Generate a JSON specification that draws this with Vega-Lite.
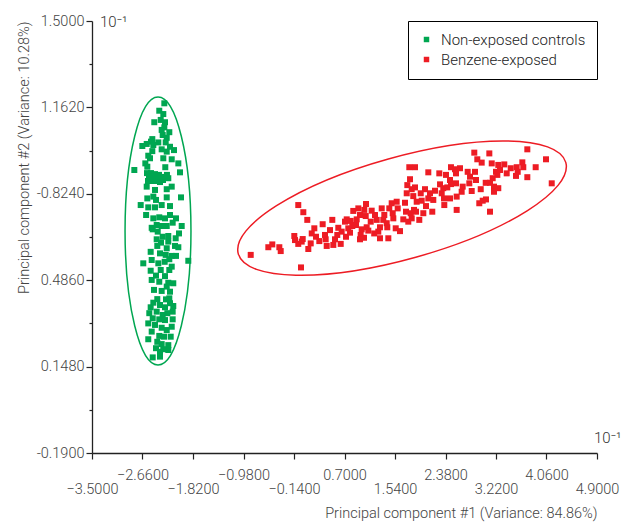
{
  "$schema": "https://vega.github.io/schema/vega-lite/v6.json",
  "width": 505,
  "height": 432,
  "autosize": {"type": "none"},
  "padding": {"left": 92, "top": 21, "right": 25, "bottom": 69},
  "background": "white",
  "config": {
    "view": {"stroke": null},
    "font": "Roboto",
    "axis": {"grid": false, "labelFont": "Roboto", "titleFont": "Roboto", "labelFontWeight": 300, "titleFontWeight": 300, "labelColor": "#444", "titleColor": "#444", "domainColor": "#222", "tickColor": "#222", "domainWidth": 1.3, "tickWidth": 1.2, "labelOverlap": false, "labelFlush": false, "labelBound": false}
  },
  "layer": [
    {
      "data": {"values": [{"pc1": -2.402, "pc2": 0.6785}]},
      "mark": {"type": "point", "shape": "M0,-1C0.1359,-1,0.246,-0.5523,0.246,0C0.246,0.5523,0.1359,1,0,1C-0.1359,1,-0.246,0.5523,-0.246,0C-0.246,-0.5523,-0.1359,-1,0,-1Z", "size": 71824, "filled": false, "color": "#00a651", "strokeWidth": 1.5, "opacity": 1},
      "encoding": {"x": {"field": "pc1", "type": "quantitative"}, "y": {"field": "pc2", "type": "quantitative"}}
    },
    {
      "data": {"values": [{"pc1": 1.657, "pc2": 0.768}]},
      "mark": {"type": "point", "shape": "M-1,0C-1,-0.1657,-0.5523,-0.3,0,-0.3C0.5523,-0.3,1,-0.1657,1,0C1,0.1657,0.5523,0.3,0,0.3C-0.5523,0.3,-1,0.1657,-1,0Z", "size": 115600, "angle": -15.6, "filled": false, "color": "#ed1c24", "strokeWidth": 1.5, "opacity": 1},
      "encoding": {"x": {"field": "pc1", "type": "quantitative"}, "y": {"field": "pc2", "type": "quantitative"}}
    },
    {
      "data": {"values": [
        {"g":"C","pc1":-2.297,"pc2":1.178},{"g":"C","pc1":-2.381,"pc2":1.149},{"g":"C","pc1":-2.314,"pc2":1.136},{"g":"C","pc1":-2.464,"pc2":1.104},{"g":"C","pc1":-2.357,"pc2":1.113},{"g":"C","pc1":-2.286,"pc2":1.104},{"g":"C","pc1":-2.297,"pc2":1.084},{"g":"C","pc1":-2.341,"pc2":1.074},{"g":"C","pc1":-2.214,"pc2":1.065},{"g":"C","pc1":-2.324,"pc2":1.054},
        {"g":"C","pc1":-2.497,"pc2":1.038},{"g":"C","pc1":-2.519,"pc2":1.028},{"g":"C","pc1":-2.397,"pc2":1.025},{"g":"C","pc1":-2.257,"pc2":1.043},{"g":"C","pc1":-2.59,"pc2":1.019},{"g":"C","pc1":-2.663,"pc2":1.011},{"g":"C","pc1":-2.48,"pc2":1.015},{"g":"C","pc1":-2.274,"pc2":1.025},{"g":"C","pc1":-2.203,"pc2":1.008},{"g":"C","pc1":-2.341,"pc2":0.998},
        {"g":"C","pc1":-2.497,"pc2":0.991},{"g":"C","pc1":-2.257,"pc2":0.989},{"g":"C","pc1":-2.136,"pc2":0.995},{"g":"C","pc1":-2.564,"pc2":0.973},{"g":"C","pc1":-2.535,"pc2":0.963},{"g":"C","pc1":-2.314,"pc2":0.963},{"g":"C","pc1":-2.174,"pc2":0.959},{"g":"C","pc1":-2.064,"pc2":0.943},{"g":"C","pc1":-2.613,"pc2":0.943},{"g":"C","pc1":-2.58,"pc2":0.93},
        {"g":"C","pc1":-2.281,"pc2":0.928},{"g":"C","pc1":-2.796,"pc2":0.917},{"g":"C","pc1":-2.036,"pc2":0.908},{"g":"C","pc1":-2.585,"pc2":0.905},{"g":"C","pc1":-2.519,"pc2":0.905},{"g":"C","pc1":-2.452,"pc2":0.901},{"g":"C","pc1":-2.386,"pc2":0.898},{"g":"C","pc1":-2.552,"pc2":0.89},{"g":"C","pc1":-2.485,"pc2":0.89},{"g":"C","pc1":-2.419,"pc2":0.886},
        {"g":"C","pc1":-2.352,"pc2":0.886},{"g":"C","pc1":-2.569,"pc2":0.874},{"g":"C","pc1":-2.502,"pc2":0.874},{"g":"C","pc1":-2.435,"pc2":0.874},{"g":"C","pc1":-2.369,"pc2":0.87},{"g":"C","pc1":-2.319,"pc2":0.878},{"g":"C","pc1":-2.286,"pc2":0.89},{"g":"C","pc1":-2.253,"pc2":0.898},{"g":"C","pc1":-2.231,"pc2":0.885},{"g":"C","pc1":-2.59,"pc2":0.852},
        {"g":"C","pc1":-2.452,"pc2":0.839},{"g":"C","pc1":-2.257,"pc2":0.842},{"g":"C","pc1":-2.174,"pc2":0.852},{"g":"C","pc1":-2.48,"pc2":0.813},{"g":"C","pc1":-2.58,"pc2":0.806},{"g":"C","pc1":-2.435,"pc2":0.8},{"g":"C","pc1":-2.257,"pc2":0.81},{"g":"C","pc1":-2.02,"pc2":0.81},{"g":"C","pc1":-2.341,"pc2":0.78},{"g":"C","pc1":-2.203,"pc2":0.776},
        {"g":"C","pc1":-2.69,"pc2":0.78},{"g":"C","pc1":-2.564,"pc2":0.771},{"g":"C","pc1":-2.452,"pc2":0.771},{"g":"C","pc1":-2.6,"pc2":0.741},{"g":"C","pc1":-2.48,"pc2":0.728},{"g":"C","pc1":-2.381,"pc2":0.732},{"g":"C","pc1":-2.286,"pc2":0.728},{"g":"C","pc1":-2.203,"pc2":0.741},{"g":"C","pc1":-2.103,"pc2":0.728},{"g":"C","pc1":-2.424,"pc2":0.702},
        {"g":"C","pc1":-2.341,"pc2":0.698},{"g":"C","pc1":-2.257,"pc2":0.698},{"g":"C","pc1":-2.158,"pc2":0.711},{"g":"C","pc1":-2.008,"pc2":0.698},{"g":"C","pc1":-2.507,"pc2":0.691},{"g":"C","pc1":-2.49,"pc2":0.685},{"g":"C","pc1":-2.407,"pc2":0.676},{"g":"C","pc1":-2.324,"pc2":0.656},{"g":"C","pc1":-2.231,"pc2":0.659},{"g":"C","pc1":-2.053,"pc2":0.669},
        {"g":"C","pc1":-2.424,"pc2":0.646},{"g":"C","pc1":-2.231,"pc2":0.637},{"g":"C","pc1":-2.108,"pc2":0.65},{"g":"C","pc1":-2.414,"pc2":0.62},{"g":"C","pc1":-2.257,"pc2":0.611},{"g":"C","pc1":-2.352,"pc2":0.633},{"g":"C","pc1":-2.119,"pc2":0.62},{"g":"C","pc1":-2.064,"pc2":0.615},{"g":"C","pc1":-2.524,"pc2":0.597},{"g":"C","pc1":-2.369,"pc2":0.591},
        {"g":"C","pc1":-2.274,"pc2":0.585},{"g":"C","pc1":-2.174,"pc2":0.581},{"g":"C","pc1":-2.103,"pc2":0.581},{"g":"C","pc1":-2.507,"pc2":0.565},{"g":"C","pc1":-2.647,"pc2":0.552},{"g":"C","pc1":-2.397,"pc2":0.552},{"g":"C","pc1":-2.291,"pc2":0.558},{"g":"C","pc1":-2.214,"pc2":0.568},{"g":"C","pc1":-1.898,"pc2":0.562},{"g":"C","pc1":-2.524,"pc2":0.523},
        {"g":"C","pc1":-2.357,"pc2":0.526},{"g":"C","pc1":-2.214,"pc2":0.526},{"g":"C","pc1":-2.174,"pc2":0.539},{"g":"C","pc1":-2.435,"pc2":0.504},{"g":"C","pc1":-2.286,"pc2":0.502},{"g":"C","pc1":-2.507,"pc2":0.487},{"g":"C","pc1":-2.381,"pc2":0.48},{"g":"C","pc1":-2.231,"pc2":0.476},{"g":"C","pc1":-2.148,"pc2":0.474},{"g":"C","pc1":-2.469,"pc2":0.448},
        {"g":"C","pc1":-2.341,"pc2":0.444},{"g":"C","pc1":-2.257,"pc2":0.461},{"g":"C","pc1":-2.203,"pc2":0.441},{"g":"C","pc1":-2.269,"pc2":0.411},{"g":"C","pc1":-2.414,"pc2":0.412},{"g":"C","pc1":-2.214,"pc2":0.415},{"g":"C","pc1":-2.48,"pc2":0.398},{"g":"C","pc1":-2.524,"pc2":0.38},{"g":"C","pc1":-2.369,"pc2":0.389},{"g":"C","pc1":-2.286,"pc2":0.38},
        {"g":"C","pc1":-2.203,"pc2":0.396},{"g":"C","pc1":-2.148,"pc2":0.385},{"g":"C","pc1":-2.547,"pc2":0.357},{"g":"C","pc1":-2.424,"pc2":0.363},{"g":"C","pc1":-2.324,"pc2":0.35},{"g":"C","pc1":-2.247,"pc2":0.357},{"g":"C","pc1":-2.158,"pc2":0.363},{"g":"C","pc1":-2.49,"pc2":0.337},{"g":"C","pc1":-2.381,"pc2":0.333},{"g":"C","pc1":-2.286,"pc2":0.33},
        {"g":"C","pc1":-2.158,"pc2":0.333},{"g":"C","pc1":-2.564,"pc2":0.317},{"g":"C","pc1":-2.452,"pc2":0.311},{"g":"C","pc1":-2.341,"pc2":0.3},{"g":"C","pc1":-2.257,"pc2":0.291},{"g":"C","pc1":-2.174,"pc2":0.304},{"g":"C","pc1":-2.507,"pc2":0.285},{"g":"C","pc1":-2.381,"pc2":0.268},{"g":"C","pc1":-2.191,"pc2":0.265},{"g":"C","pc1":-2.302,"pc2":0.265},
        {"g":"C","pc1":-2.564,"pc2":0.255},{"g":"C","pc1":-2.414,"pc2":0.245},{"g":"C","pc1":-2.341,"pc2":0.236},{"g":"C","pc1":-2.231,"pc2":0.232},{"g":"C","pc1":-2.435,"pc2":0.22},{"g":"C","pc1":-2.314,"pc2":0.216},{"g":"C","pc1":-2.231,"pc2":0.213},{"g":"C","pc1":-2.369,"pc2":0.206},{"g":"C","pc1":-2.49,"pc2":0.184},{"g":"C","pc1":-2.369,"pc2":0.187},
        {"g":"B","pc1":-0.86,"pc2":0.585},{"g":"B","pc1":-0.567,"pc2":0.615},{"g":"B","pc1":-0.501,"pc2":0.626},{"g":"B","pc1":-0.384,"pc2":0.615},{"g":"B","pc1":-0.361,"pc2":0.6},{"g":"B","pc1":-0.024,"pc2":0.536},{"g":"B","pc1":-0.069,"pc2":0.78},{"g":"B","pc1":0.015,"pc2":0.752},{"g":"B","pc1":0.081,"pc2":0.722},{"g":"B","pc1":-0.135,"pc2":0.659},
        {"g":"B","pc1":-0.123,"pc2":0.643},{"g":"B","pc1":0.005,"pc2":0.647},{"g":"B","pc1":-0.069,"pc2":0.628},{"g":"B","pc1":-0.012,"pc2":0.637},{"g":"B","pc1":0.098,"pc2":0.608},{"g":"B","pc1":0.138,"pc2":0.63},{"g":"B","pc1":0.155,"pc2":0.669},{"g":"B","pc1":0.198,"pc2":0.689},{"g":"B","pc1":0.226,"pc2":0.656},{"g":"B","pc1":0.281,"pc2":0.639},
        {"g":"B","pc1":0.337,"pc2":0.705},{"g":"B","pc1":0.376,"pc2":0.663},{"g":"B","pc1":0.404,"pc2":0.62},{"g":"B","pc1":0.459,"pc2":0.682},{"g":"B","pc1":0.387,"pc2":0.646},{"g":"B","pc1":0.497,"pc2":0.722},{"g":"B","pc1":0.514,"pc2":0.624},{"g":"B","pc1":0.542,"pc2":0.646},{"g":"B","pc1":0.597,"pc2":0.691},{"g":"B","pc1":0.58,"pc2":0.663},
        {"g":"B","pc1":0.637,"pc2":0.628},{"g":"B","pc1":0.653,"pc2":0.676},{"g":"B","pc1":0.708,"pc2":0.715},{"g":"B","pc1":0.725,"pc2":0.656},{"g":"B","pc1":0.763,"pc2":0.689},{"g":"B","pc1":0.737,"pc2":0.724},{"g":"B","pc1":0.803,"pc2":0.718},{"g":"B","pc1":0.792,"pc2":0.672},{"g":"B","pc1":0.83,"pc2":0.698},{"g":"B","pc1":0.846,"pc2":0.757},
        {"g":"B","pc1":0.891,"pc2":0.702},{"g":"B","pc1":0.93,"pc2":0.767},{"g":"B","pc1":0.903,"pc2":0.724},{"g":"B","pc1":0.958,"pc2":0.741},{"g":"B","pc1":0.969,"pc2":0.663},{"g":"B","pc1":1.024,"pc2":0.652},{"g":"B","pc1":0.958,"pc2":0.646},{"g":"B","pc1":0.986,"pc2":0.685},{"g":"B","pc1":1.029,"pc2":0.761},{"g":"B","pc1":1.058,"pc2":0.784},
        {"g":"B","pc1":1.053,"pc2":0.737},{"g":"B","pc1":1.069,"pc2":0.693},{"g":"B","pc1":1.152,"pc2":0.758},{"g":"B","pc1":1.136,"pc2":0.715},{"g":"B","pc1":1.207,"pc2":0.741},{"g":"B","pc1":1.236,"pc2":0.722},{"g":"B","pc1":1.29,"pc2":0.693},{"g":"B","pc1":1.262,"pc2":0.676},{"g":"B","pc1":1.319,"pc2":0.767},{"g":"B","pc1":1.345,"pc2":0.722},
        {"g":"B","pc1":1.362,"pc2":0.741},{"g":"B","pc1":1.402,"pc2":0.709},{"g":"B","pc1":1.412,"pc2":0.693},{"g":"B","pc1":1.445,"pc2":0.767},{"g":"B","pc1":1.485,"pc2":0.787},{"g":"B","pc1":1.502,"pc2":0.748},{"g":"B","pc1":1.512,"pc2":0.728},{"g":"B","pc1":1.568,"pc2":0.793},{"g":"B","pc1":1.585,"pc2":0.767},{"g":"B","pc1":1.552,"pc2":0.689},
        {"g":"B","pc1":1.29,"pc2":0.65},{"g":"B","pc1":1.429,"pc2":0.65},{"g":"B","pc1":1.194,"pc2":0.669},{"g":"B","pc1":1.096,"pc2":0.68},{"g":"B","pc1":1.623,"pc2":0.678},{"g":"B","pc1":1.706,"pc2":0.789},{"g":"B","pc1":1.735,"pc2":0.826},{"g":"B","pc1":1.745,"pc2":0.858},{"g":"B","pc1":1.778,"pc2":0.928},{"g":"B","pc1":1.873,"pc2":0.928},
        {"g":"B","pc1":1.79,"pc2":0.881},{"g":"B","pc1":1.818,"pc2":0.842},{"g":"B","pc1":1.873,"pc2":0.849},{"g":"B","pc1":1.844,"pc2":0.815},{"g":"B","pc1":1.723,"pc2":0.754},{"g":"B","pc1":1.678,"pc2":0.724},{"g":"B","pc1":1.761,"pc2":0.715},{"g":"B","pc1":1.801,"pc2":0.748},{"g":"B","pc1":1.856,"pc2":0.761},{"g":"B","pc1":1.818,"pc2":0.728},
        {"g":"B","pc1":1.944,"pc2":0.722},{"g":"B","pc1":1.901,"pc2":0.793},{"g":"B","pc1":1.889,"pc2":0.754},{"g":"B","pc1":1.968,"pc2":0.826},{"g":"B","pc1":1.984,"pc2":0.797},{"g":"B","pc1":2.011,"pc2":0.748},{"g":"B","pc1":2.056,"pc2":0.776},{"g":"B","pc1":2.094,"pc2":0.908},{"g":"B","pc1":2.039,"pc2":0.842},{"g":"B","pc1":2.094,"pc2":0.806},
        {"g":"B","pc1":2.122,"pc2":0.826},{"g":"B","pc1":2.16,"pc2":0.754},{"g":"B","pc1":2.205,"pc2":0.836},{"g":"B","pc1":2.177,"pc2":0.8},{"g":"B","pc1":2.277,"pc2":0.904},{"g":"B","pc1":2.289,"pc2":0.861},{"g":"B","pc1":2.317,"pc2":0.826},{"g":"B","pc1":2.343,"pc2":0.846},{"g":"B","pc1":2.355,"pc2":0.806},{"g":"B","pc1":2.36,"pc2":0.78},
        {"g":"B","pc1":2.388,"pc2":0.898},{"g":"B","pc1":2.41,"pc2":0.849},{"g":"B","pc1":2.455,"pc2":0.806},{"g":"B","pc1":2.455,"pc2":0.878},{"g":"B","pc1":2.471,"pc2":0.928},{"g":"B","pc1":2.538,"pc2":0.92},{"g":"B","pc1":2.555,"pc2":0.904},{"g":"B","pc1":2.555,"pc2":0.865},{"g":"B","pc1":2.566,"pc2":0.813},{"g":"B","pc1":2.566,"pc2":0.761},
        {"g":"B","pc1":2.471,"pc2":0.862},{"g":"B","pc1":2.621,"pc2":0.924},{"g":"B","pc1":2.666,"pc2":0.852},{"g":"B","pc1":2.649,"pc2":0.832},{"g":"B","pc1":2.749,"pc2":0.91},{"g":"B","pc1":2.788,"pc2":0.891},{"g":"B","pc1":2.776,"pc2":0.865},{"g":"B","pc1":2.816,"pc2":0.835},{"g":"B","pc1":2.871,"pc2":0.91},{"g":"B","pc1":2.887,"pc2":0.878},
        {"g":"B","pc1":2.859,"pc2":0.985},{"g":"B","pc1":2.909,"pc2":0.959},{"g":"B","pc1":2.982,"pc2":0.946},{"g":"B","pc1":2.966,"pc2":0.842},{"g":"B","pc1":2.942,"pc2":0.787},{"g":"B","pc1":2.999,"pc2":0.797},{"g":"B","pc1":3.054,"pc2":0.802},{"g":"B","pc1":3.109,"pc2":0.982},{"g":"B","pc1":3.049,"pc2":0.867},{"g":"B","pc1":3.12,"pc2":0.867},
        {"g":"B","pc1":3.149,"pc2":0.943},{"g":"B","pc1":3.165,"pc2":0.885},{"g":"B","pc1":3.187,"pc2":0.852},{"g":"B","pc1":3.187,"pc2":0.832},{"g":"B","pc1":3.12,"pc2":0.754},{"g":"B","pc1":3.22,"pc2":0.91},{"g":"B","pc1":3.242,"pc2":0.898},{"g":"B","pc1":3.258,"pc2":0.937},{"g":"B","pc1":3.287,"pc2":0.917},{"g":"B","pc1":3.258,"pc2":0.846},
        {"g":"B","pc1":3.358,"pc2":0.939},{"g":"B","pc1":3.398,"pc2":0.904},{"g":"B","pc1":3.465,"pc2":0.924},{"g":"B","pc1":3.564,"pc2":0.928},{"g":"B","pc1":3.581,"pc2":0.91},{"g":"B","pc1":3.553,"pc2":0.894},{"g":"B","pc1":3.658,"pc2":0.947},{"g":"B","pc1":3.674,"pc2":0.928},{"g":"B","pc1":3.741,"pc2":0.889},{"g":"B","pc1":3.741,"pc2":0.998},
        {"g":"B","pc1":3.88,"pc2":0.928},{"g":"B","pc1":4.052,"pc2":0.959},{"g":"B","pc1":4.147,"pc2":0.865}
      ]},
      "mark": {"type": "point", "shape": "square", "filled": true, "size": 36, "opacity": 1, "strokeWidth": 0},
      "encoding": {
        "x": {
          "field": "pc1", "type": "quantitative",
          "scale": {"domain": [-3.5, 4.9], "nice": false, "zero": false},
          "axis": {
            "values": [-3.5, -3.08, -2.66, -2.24, -1.82, -1.4, -0.98, -0.56, -0.14, 0.28, 0.7, 1.12, 1.54, 1.96, 2.38, 2.8, 3.22, 3.64, 4.06, 4.48, 4.9],
            "labelExpr": "round((datum.value+3.5)/0.42) % 4 == 0 ? ['', format(datum.value, '.4f')] : (round((datum.value+3.5)/0.42) % 4 == 2 ? format(datum.value, '.4f') : '')",
            "tickSize": {"condition": {"test": "round((datum.value+3.5)/0.42) % 2 == 0", "value": 6}, "value": 3},
            "labelFontSize": 14.5,
            "labelLineHeight": 14,
            "labelPadding": 9,
            "title": "Principal component #1 (Variance: 84.86%)",
            "titleAnchor": "end",
            "titleFontSize": 14.5,
            "titlePadding": 11
          }
        },
        "y": {
          "field": "pc2", "type": "quantitative",
          "scale": {"domain": [-0.19, 1.5], "nice": false, "zero": false},
          "axis": {
            "values": [-0.19, -0.021, 0.148, 0.317, 0.486, 0.655, 0.824, 0.993, 1.162, 1.331, 1.5],
            "labelExpr": "round((datum.value+0.19)/0.169) % 2 == 1 ? '' : (abs(datum.value-0.824) < 0.001 ? '-0.8240' : replace(format(datum.value, '.4f'), '\u2212', '-'))",
            "tickSize": {"condition": {"test": "round((datum.value+0.19)/0.169) % 2 == 0", "value": 6}, "value": 3},
            "labelFontSize": 14.5,
            "labelPadding": 2,
            "title": "Principal component #2 (Variance: 10.28%)",
            "titleAnchor": "end",
            "titleFontSize": 14.5,
            "titlePadding": 5
          }
        },
        "color": {
          "field": "g", "type": "nominal",
          "scale": {"domain": ["C", "B"], "range": ["#00a651", "#ed1c24"]},
          "legend": {
            "orient": "top-right", "offset": 0, "title": null,
            "labelExpr": "datum.label == 'C' ? 'Non-exposed controls' : 'Benzene-exposed'",
            "strokeColor": "#000", "fillColor": "white", "padding": 11,
            "symbolType": "square", "symbolSize": 30, "symbolStrokeWidth": 0,
            "labelFont": "Roboto", "labelFontSize": 15, "labelFontWeight": 300, "labelColor": "#222",
            "rowPadding": 4, "labelOffset": 7
          }
        }
      }
    },
    {
      "data": {"values": [{"pc1": -3.5, "pc2": 1.5, "t": "10⁻¹"}]},
      "mark": {"type": "text", "align": "left", "baseline": "middle", "dx": 8, "dy": 1, "font": "Roboto", "fontWeight": 300, "fontSize": 15, "color": "#333"},
      "encoding": {"x": {"field": "pc1", "type": "quantitative"}, "y": {"field": "pc2", "type": "quantitative"}, "text": {"field": "t"}}
    },
    {
      "data": {"values": [{"pc1": 4.9, "pc2": -0.19, "t": "10⁻¹"}]},
      "mark": {"type": "text", "align": "left", "baseline": "middle", "dx": -3, "dy": -15, "font": "Roboto", "fontWeight": 300, "fontSize": 15, "color": "#333"},
      "encoding": {"x": {"field": "pc1", "type": "quantitative"}, "y": {"field": "pc2", "type": "quantitative"}, "text": {"field": "t"}}
    }
  ]
}
